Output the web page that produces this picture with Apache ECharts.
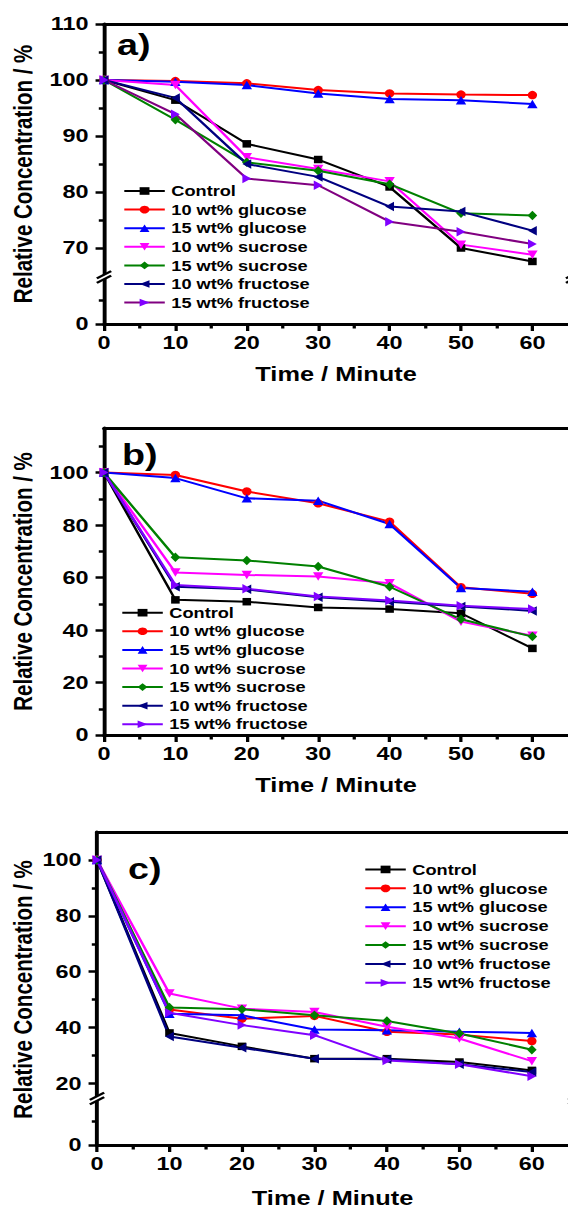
<!DOCTYPE html>
<html><head><meta charset="utf-8">
<script src="https://cdn.jsdelivr.net/npm/echarts@6/dist/echarts.min.js"></script>
<style>html,body{margin:0;padding:0;background:#fff;overflow:hidden}
#wrap{width:568px;height:1210px;overflow:hidden;position:relative}
#c{width:436.923px;height:1210px;transform:scaleX(1.3);transform-origin:0 0}</style>
</head><body><div id="wrap"><div id="c"></div></div>
<script>
// ---------- data ----------
const times = [0, 10, 20, 30, 40, 50, 60];
const seriesNames = ['Control', '10 wt% glucose', '15 wt% glucose', '10 wt% sucrose', '15 wt% sucrose', '10 wt% fructose', '15 wt% fructose'];

const aControl = [100, 96.4, 88.6, 85.8, 80.9, 70.0, 67.6];
const aGlu10   = [100, 99.8, 99.4, 98.2, 97.6, 97.4, 97.3];
const aGlu15   = [100, 99.7, 99.1, 97.6, 96.6, 96.4, 95.7];
const aSuc10   = [100, 99.1, 86.2, 84.1, 81.9, 70.6, 68.8];
const aSuc15   = [100, 92.9, 85.3, 83.8, 81.4, 76.2, 75.8];
const aFru10   = [100, 96.8, 85.0, 82.7, 77.4, 76.5, 73.1];
const aFru15   = [100, 93.9, 82.4, 81.2, 74.7, 72.9, 70.7];

const bControl = [100, 51.5, 50.8, 48.6, 48.0, 46.4, 33.0];
const bGlu10   = [100, 99.1, 92.8, 88.3, 81.3, 56.3, 53.8];
const bGlu15   = [100, 97.9, 90.2, 89.3, 80.4, 56.0, 54.6];
const bSuc10   = [100, 61.9, 61.0, 60.4, 57.8, 43.2, 37.8];
const bSuc15   = [100, 67.7, 66.5, 64.2, 56.5, 44.1, 37.5];
const bFru10   = [100, 56.5, 55.5, 52.5, 50.8, 49.0, 47.3];
const bFru15   = [100, 57.2, 55.7, 52.8, 51.3, 49.3, 48.0];

const cControl = [100, 38.1, 33.3, 28.9, 28.9, 27.7, 24.7];
const cGlu10   = [100, 46.5, 43.2, 44.2, 38.5, 37.5, 35.2];
const cGlu15   = [100, 45.0, 44.4, 39.3, 39.1, 38.5, 38.1];
const cSuc10   = [100, 52.2, 46.8, 45.6, 40.3, 36.1, 28.0];
const cSuc15   = [100, 47.2, 46.6, 44.4, 42.4, 37.9, 32.1];
const cFru10   = [100, 36.8, 32.8, 28.9, 28.7, 26.9, 24.1];
const cFru15   = [100, 45.3, 40.9, 37.3, 28.2, 26.9, 22.6];

const xTickLabels = [0, 10, 20, 30, 40, 50, 60];
const xMinorTicks = [5, 15, 25, 35, 45, 55];
const aYTickLabels = [70, 80, 90, 100, 110];
const aYMinorTicks = [75, 85, 95, 105];
const bYTickLabels = [0, 20, 40, 60, 80, 100];
const bYMinorTicks = [10, 30, 50, 70, 90, 110];
const cYTickLabels = [20, 40, 60, 80, 100];
const cYMinorTicks = [30, 50, 70, 90];
const lowTickLabels = [0];
const lowMinorTicks = [5];

// ---------- styles ----------
const FF = '"Liberation Sans", Arial, Helvetica, sans-serif';
const S = 1.3;               // horizontal stretch of the original figure
const L = v => v / S;        // final px -> logical px
const X_MAX = 65;
const colors = ['#000000', '#FF0000', '#0000FF', '#FF00FF', '#008000', '#000080', '#8000FF'];
const symbols = ['rect', 'circle', 'triangle', 'triangle', 'diamond', 'triangle', 'triangle'];
const rotates = [0, 0, 0, 180, 0, 90, -90];
const sizes = [[6.6, 7.5], [7.2, 8.5], [8, 8.5], [8, 8.5], [7.4, 9.5], [9.5, 6.8], [9.5, 6.8]];
const AX = { color: '#000', width: 3 };
const TK = { color: '#000', width: 2.5 };
const labelFont = { fontSize: 18, fontWeight: 'bold', fontFamily: FF, color: '#000' };

const grid = [], xAxis = [], yAxis = [], series = [], legend = [], graphic = [];

function addX(g, o) {
  xAxis.push(Object.assign({ gridIndex: g, type: 'value', min: 0, max: X_MAX, splitLine: { show: false },
    axisLine: { show: false, onZero: false }, axisTick: { show: false }, axisLabel: { show: false } }, o));
  return xAxis.length - 1;
}
function addY(g, min, max, o) {
  yAxis.push(Object.assign({ gridIndex: g, type: 'value', min: min, max: max, position: 'left', splitLine: { show: false },
    axisLine: { show: false, onZero: false }, axisTick: { show: false }, axisLabel: { show: false } }, o));
  return yAxis.length - 1;
}
function yMain(g, min, max, labels) {
  return addY(g, min, max, {
    axisLine: { show: true, onZero: false, lineStyle: AX },
    axisTick: { show: true, customValues: labels, length: 6.5, lineStyle: TK },
    axisLabel: Object.assign({ show: true, customValues: labels, margin: 12 }, labelFont)
  });
}
function yMinor(g, min, max, minors) {
  return addY(g, min, max, { axisTick: { show: true, customValues: minors, length: 4, lineStyle: TK } });
}
function xBottom(g, gap) {
  addX(g, { position: 'bottom', axisTick: { show: true, customValues: xMinorTicks, length: 4.5, lineStyle: TK } });
  return addX(g, {
    position: 'bottom',
    axisLine: { show: true, onZero: false, lineStyle: AX },
    axisTick: { show: true, customValues: xTickLabels, length: 7, lineStyle: TK },
    axisLabel: Object.assign({ show: true, customValues: xTickLabels, margin: 10 }, labelFont),
    name: 'Time / Minute', nameLocation: 'middle', nameGap: gap,
    nameTextStyle: { fontSize: 19.5, fontWeight: 'bold', fontFamily: FF, color: '#000' }
  });
}
function xTop(g) {
  return addX(g, { position: 'top', axisLine: { show: true, onZero: false, lineStyle: AX } });
}
function brk(cx, cy) {
  const dx = 5.5, dy = 3.6, o = 2.3;
  return [
    { type: 'polygon', z: 100, shape: { points: [[cx - dx, cy + dy + o], [cx + dx, cy - dy + o], [cx + dx, cy - dy - o], [cx - dx, cy + dy - o]] }, style: { fill: '#fff' } },
    { type: 'line', z: 101, shape: { x1: cx - dx, y1: cy + dy + o, x2: cx + dx, y2: cy - dy + o }, style: { stroke: '#000', lineWidth: 2.2 } },
    { type: 'line', z: 101, shape: { x1: cx - dx, y1: cy + dy - o, x2: cx + dx, y2: cy - dy - o }, style: { stroke: '#000', lineWidth: 2.2 } }
  ];
}
function addSeries(xi, yi, arrays, lineColors) {
  arrays.forEach((vals, k) => {
    series.push({
      type: 'line', name: seriesNames[k], xAxisIndex: xi, yAxisIndex: yi,
      data: times.map((t, i) => [t, vals[i]]),
      symbol: symbols[k], symbolSize: sizes[k], symbolRotate: rotates[k], showSymbol: true,
      lineStyle: { color: lineColors[k], width: 2 }, itemStyle: { color: colors[k] },
      emphasis: { disabled: true }, clip: false, animation: false
    });
  });
}
function addLegend(leftPx, top, rowH, lineColors) {
  legend.push({
    orient: 'vertical', left: L(leftPx), top: top, itemWidth: L(47) - 5, itemHeight: 9.5, itemGap: 0,
    selectedMode: false, padding: 0,
    textStyle: { fontSize: 14, fontWeight: 'bold', fontFamily: FF, color: '#000', lineHeight: rowH },
    data: seriesNames.map((n, k) => ({ name: n, lineStyle: { color: lineColors[k] }, itemStyle: { color: colors[k] } }))
  });
}
function yTitle(cy) {
  graphic.push({ type: 'text', x: L(22.5), y: cy, rotation: Math.PI / 2, z: 50,
    style: { text: 'Relative Concentration / %', fontSize: 20.5, fontWeight: 'bold', fontFamily: FF, fill: '#000', align: 'center', verticalAlign: 'middle' } });
}
function panelLabel(text, xPx, cy) {
  graphic.push({ type: 'text', x: L(xPx), y: cy, z: 50,
    style: { text: text, fontSize: 29, fontWeight: 'bold', fontFamily: FF, fill: '#000', align: 'left', verticalAlign: 'middle' } });
}

// ---------- panel a (broken y axis) ----------
{
  const left = 104, unit = 7.217, top = 24, brY = 276, bot = 324;
  const gU = grid.push({ left: L(left), width: L(unit * X_MAX), top: top, height: brY - top }) - 1;
  const gD = grid.push({ left: L(left), width: L(unit * X_MAX), top: brY, height: bot - brY }) - 1;
  const xi = xTop(gU);
  const yi = yMain(gU, 65, 110, aYTickLabels); yMinor(gU, 65, 110, aYMinorTicks);
  xBottom(gD, 41);
  yMain(gD, 0, 10, lowTickLabels); yMinor(gD, 0, 10, lowMinorTicks);
  const lc = colors.slice(); lc[6] = '#800080';
  addSeries(xi, yi, [aControl, aGlu10, aGlu15, aSuc10, aSuc15, aFru10, aFru15], lc);
  addLegend(123, 181.7, 18.6, lc);
  yTitle((top + bot) / 2);
  panelLabel('a)', 117, 45);
  graphic.push(...brk(L(left), brY + 1), ...brk(L(left + unit * X_MAX), brY + 1));
}
// ---------- panel b ----------
{
  const left = 104, unit = 7.217, top = 428, bot = 735;
  const g = grid.push({ left: L(left), width: L(unit * X_MAX), top: top, height: bot - top }) - 1;
  xTop(g);
  const xi = xBottom(g, 41);
  const yi = yMain(g, 0, 117, bYTickLabels); yMinor(g, 0, 117, bYMinorTicks);
  addSeries(xi, yi, [bControl, bGlu10, bGlu15, bSuc10, bSuc15, bFru10, bFru15], colors);
  addLegend(121, 603.4, 18.6, colors);
  yTitle((top + bot) / 2);
  panelLabel('b)', 122, 455);
}
// ---------- panel c (broken y axis) ----------
{
  const left = 97, unit = 7.36, top = 832, brY = 1097.5, bot = 1147;
  const gU = grid.push({ left: L(left), width: L(unit * X_MAX), top: top, height: brY - top }) - 1;
  const gD = grid.push({ left: L(left), width: L(unit * X_MAX), top: brY, height: bot - brY }) - 1;
  const xi = xTop(gU);
  const yi = yMain(gU, 15, 110, cYTickLabels); yMinor(gU, 15, 110, cYMinorTicks);
  xBottom(gD, 44);
  yMain(gD, 0, 10, lowTickLabels); yMinor(gD, 0, 10, lowMinorTicks);
  addSeries(xi, yi, [cControl, cGlu10, cGlu15, cSuc10, cSuc15, cFru10, cFru15], colors);
  addLegend(364, 860, 18.9, colors);
  yTitle((top + bot) / 2);
  panelLabel('c)', 128, 869.5);
  graphic.push(...brk(L(left), brY + 1), ...brk(L(left + unit * X_MAX), brY + 1));
}

const chart = echarts.init(document.getElementById('c'), null, { renderer: 'svg' });
chart.setOption({
  backgroundColor: '#fff', animation: false,
  grid: grid, xAxis: xAxis, yAxis: yAxis, series: series, legend: legend,
  graphic: { elements: graphic }
});
</script></body></html>
